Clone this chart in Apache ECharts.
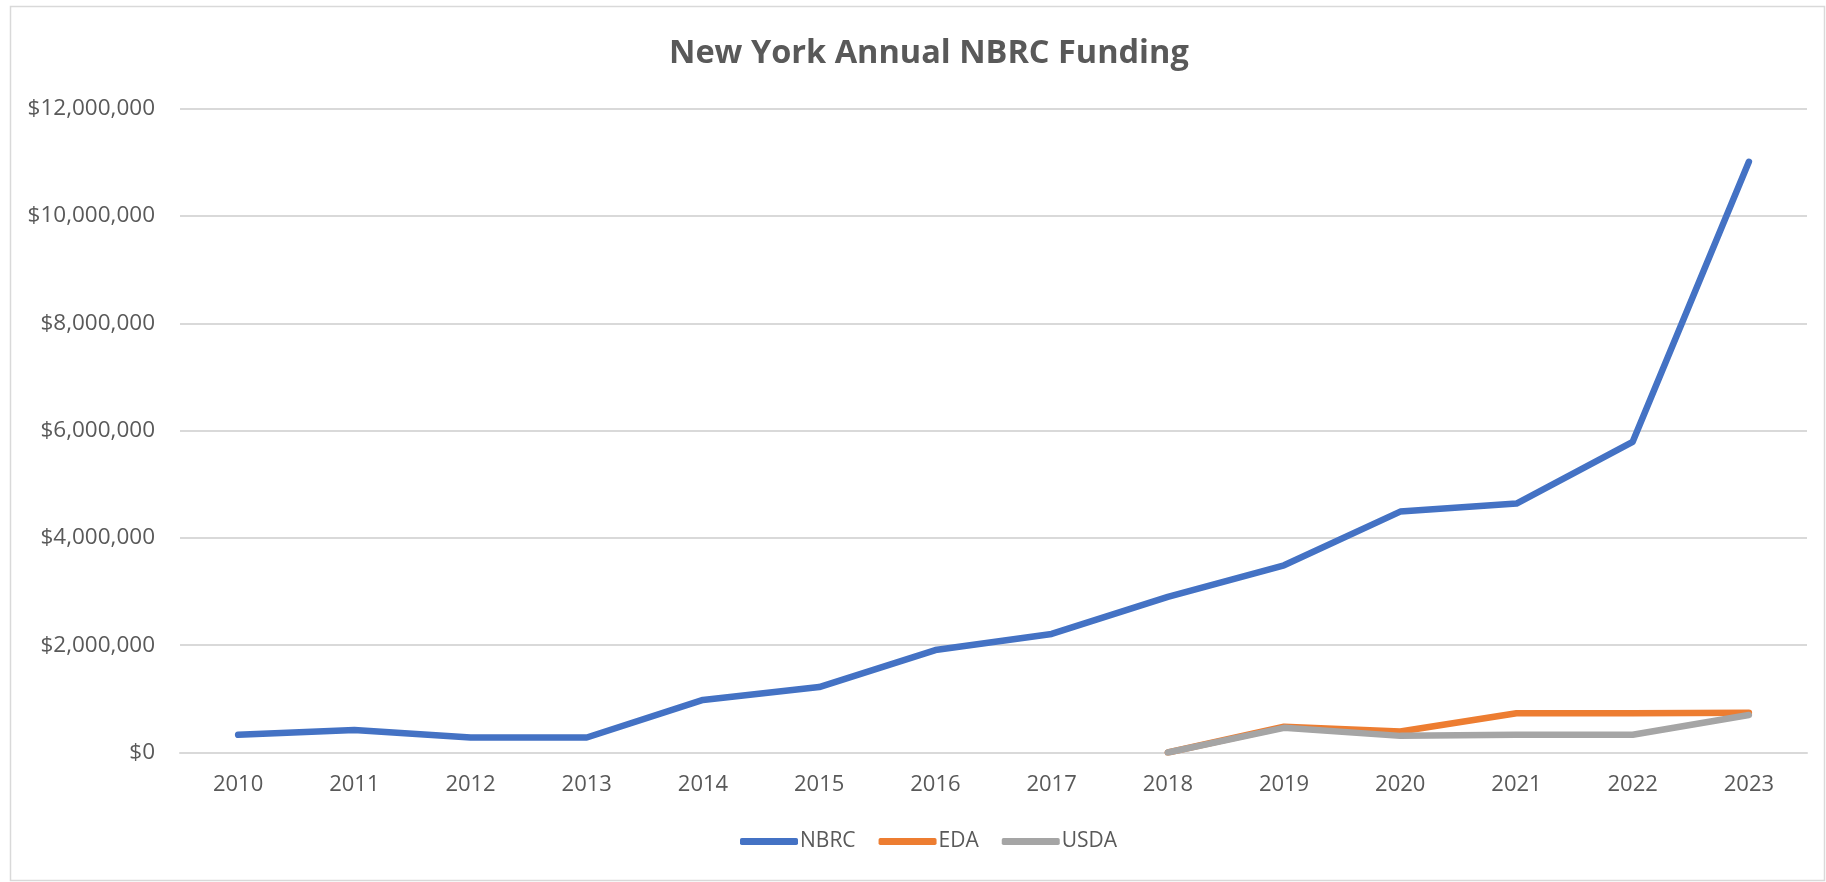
<!DOCTYPE html>
<html>
<head>
<meta charset="utf-8">
<script src="https://cdn.jsdelivr.net/npm/echarts@6/dist/echarts.min.js"></script>
<style>
html,body{margin:0;padding:0;background:#fff;}
#main{width:1826px;height:882px;}
</style>
</head>
<body>
<div id="main"></div>
<script>
const years = ['2010','2011','2012','2013','2014','2015','2016','2017','2018','2019','2020','2021','2022','2023'];
const nbrc = [330000, 420000, 280000, 280000, 980000, 1220000, 1910000, 2210000, 2900000, 3490000, 4490000, 4640000, 5790000, 11010000];
const eda  = [null, null, null, null, null, null, null, null, 0, 480000, 390000, 730000, 730000, 740000];
const usda = [null, null, null, null, null, null, null, null, 0, 460000, 310000, 330000, 330000, 700000];
const seriesNames = ['NBRC', 'EDA', 'USDA'];
const colors = ['#4472C4', '#ED7D31', '#A5A5A5'];
const titleText = 'New York Annual NBRC Funding';

const chart = echarts.init(document.getElementById('main'));
const font = '"Open Sans", "Liberation Sans", sans-serif';
function fmt(v){ return '$' + Number(v).toLocaleString('en-US'); }
function mk(name, data, color){
  return {
    name: name, type: 'line', data: data, symbol: 'none', connectNulls: false,
    lineStyle: { width: 6.5, color: color, cap: 'round', join: 'round' },
    itemStyle: { color: color }
  };
}
chart.setOption({
  animation: false,
  color: colors,
  title: {
    text: titleText, left: 664, top: 32,
    textStyle: { fontFamily: font, fontWeight: 'bold', fontSize: 32.5, color: '#595959' }
  },
  legend: {
    data: seriesNames, left: 735, top: 826, itemWidth: 58, itemHeight: 7, itemGap: 23,
    icon: 'roundRect',
    textStyle: { fontFamily: font, fontSize: 21, color: '#595959', padding: [0,0,0,-3] }
  },
  graphic: [{
    type: 'rect', silent: true, z: -10,
    shape: { x: 10.5, y: 6.5, width: 1814, height: 874 },
    style: { fill: 'none', stroke: '#d9d9d9', lineWidth: 1.5 }
  }],
  grid: { left: 180, right: 19, top: 108.7, bottom: 129.5, containLabel: false },
  xAxis: {
    type: 'category', data: years, boundaryGap: true,
    axisLine: { show: true, lineStyle: { color: '#d9d9d9', width: 2 } },
    axisTick: { show: false },
    axisLabel: { fontFamily: font, fontSize: 22, color: '#595959', margin: 21 }
  },
  yAxis: {
    type: 'value', min: 0, max: 12000000, interval: 2000000,
    axisLine: { show: false }, axisTick: { show: false },
    axisLabel: { fontFamily: font, fontSize: 22.5, color: '#595959', margin: 25, formatter: fmt },
    splitLine: { lineStyle: { color: '#d9d9d9', width: 2 } }
  },
  series: [mk('NBRC', nbrc, colors[0]), mk('EDA', eda, colors[1]), mk('USDA', usda, colors[2])]
});
</script>
</body>
</html>
